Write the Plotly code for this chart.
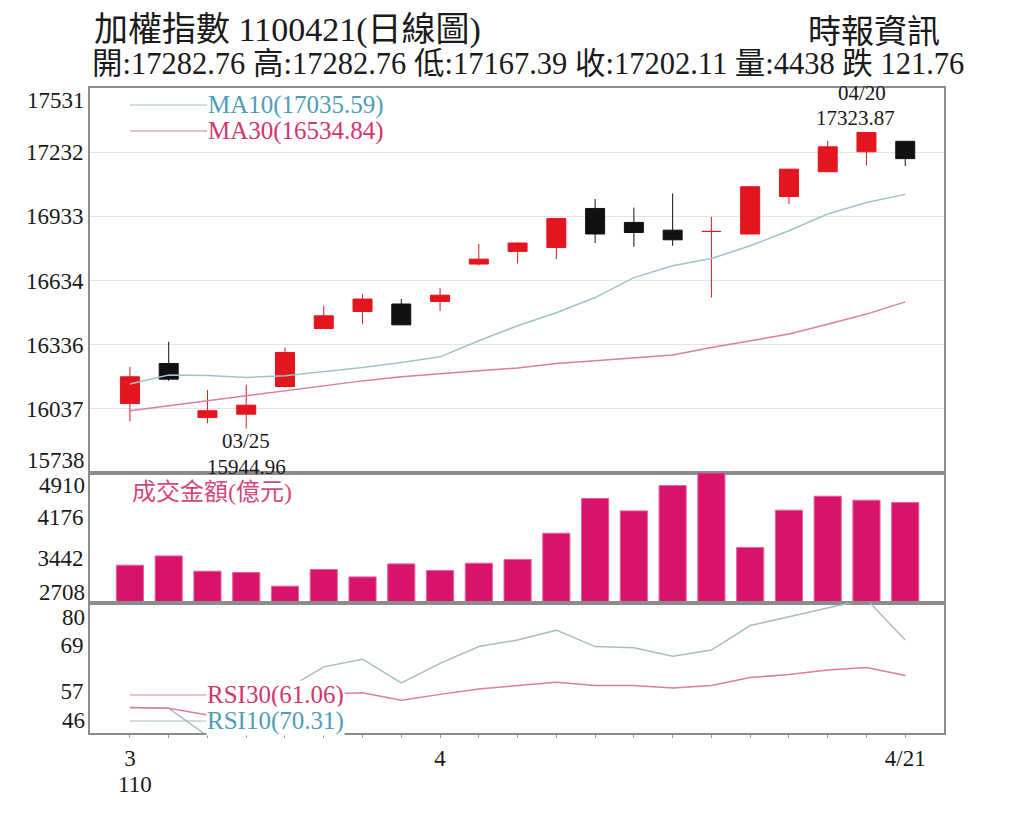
import plotly.graph_objects as go
from plotly.subplots import make_subplots

# 加權指數 daily data, 110/03/22 - 110/04/21
roc_year = 110
dates = ["03/22", "03/23", "03/24", "03/25", "03/26", "03/29", "03/30", "03/31",
         "04/01", "04/06", "04/07", "04/08", "04/09", "04/12", "04/13", "04/14",
         "04/15", "04/16", "04/19", "04/20", "04/21"]
opens = [16062, 16248, 15996, 16012, 16141, 16411, 16490, 16525, 16537, 16711, 16770,
         16788, 16970, 16905, 16869, 16863, 16851, 17026, 17141, 17234, 17282.76]
highs = [16233, 16349, 16124, 16149, 16322, 16517, 16571, 16548, 16599, 16804, 16812,
         16926, 17014, 16974, 17040, 16931, 17073, 17155, 17285, 17323.87, 17282.76]
lows = [15978, 16167, 15969, 15944.96, 16136, 16408, 16431, 16427, 16493, 16705, 16714,
        16734, 16809, 16791, 16796, 16555, 16849, 16990, 17139, 17172, 17167.39]
closes = [16186, 16175, 16028, 16054, 16299, 16470, 16548, 16428, 16566, 16734, 16809,
          16923, 16851, 16858, 16824, 16863, 17071, 17153, 17257, 17323.87, 17202.11]
ma10 = [16152, 16194, 16192, 16183, 16191, 16211, 16229, 16253, 16279, 16354, 16424,
        16484, 16555, 16648, 16703, 16737, 16796, 16866, 16944, 16998, 17035.59]
ma30 = [16028, 16051, 16074, 16098, 16121, 16144, 16167, 16186, 16201, 16214, 16227,
        16248, 16261, 16276, 16288, 16322, 16354, 16385, 16431, 16478, 16534.84]
volumes = [3317, 3483, 3209, 3186, 2941, 3240, 3107, 3340, 3222, 3352, 3419,
           3889, 4510, 4289, 4743, 4969, 3633, 4301, 4552, 4480, 4438]
rsi10 = [52.7, 52.5, 45.2, 44, 57.2, 63.3, 65.3, 59.1, 64.2, 68.6, 70.3,
         72.9, 68.6, 68.3, 66.1, 67.7, 74.1, 76.4, 78.6, 81, 70.31]
rsi30 = [52.7, 52.5, 50.7, 54.6, 55.4, 56.2, 56.5, 54.6, 56.1, 57.5, 58.4,
         59.3, 58.4, 58.4, 57.8, 58.4, 60.5, 61.3, 62.5, 63.1, 61.06]

price_ticks = [17531, 17232, 16933, 16634, 16336, 16037, 15738]
vol_ticks = [4910, 4176, 3442, 2708]
rsi_ticks = [80, 69, 57, 46]

RED = '#e3151f'
BLACK = '#111111'
MAG = '#d9136c'
MA10_C = '#9cc3cc'
MA30_C = '#de7d9d'
BLUE_T = '#4f9cba'
PINK_T = '#d2366c'
AXC = '#8c8c8c'
SERIF = 'Liberation Serif, Noto Sans CJK TC'

# plot box in picture pixels; the page adds an 8px body margin
OFF = 8
L, R, T, B = 90, 944, 88, 733
W, H = R - L, B - T
FW, FH = 1024 - OFF, 819 - OFF
def px(x):
    return (x - L) / W
def py(y):
    return (B - y) / H

xs = list(range(len(dates)))

# x tick text: month at first day of month, m/d on last day
ticktext = []
for i, d in enumerate(dates):
    m = int(d[:2])
    if i == len(dates) - 1:
        ticktext.append('%d/%s' % (m, d[3:]))
    elif i == 0 or d[:2] != dates[i - 1][:2]:
        ticktext.append(str(m))
    else:
        ticktext.append('')

fig = make_subplots(rows=3, cols=1, shared_xaxes=True, vertical_spacing=0,
                    row_heights=[385, 130, 130])

fig.add_trace(go.Candlestick(x=xs, open=opens, high=highs, low=lows, close=closes,
                             increasing=dict(line=dict(color=RED, width=1), fillcolor=RED),
                             decreasing=dict(line=dict(color=BLACK, width=1), fillcolor=BLACK),
                             whiskerwidth=0, showlegend=False, hoverinfo='skip'),
              row=1, col=1)
fig.add_trace(go.Scatter(x=xs, y=ma10, mode='lines', line=dict(color=MA10_C, width=1.5),
                         showlegend=False), row=1, col=1)
fig.add_trace(go.Scatter(x=xs, y=ma30, mode='lines', line=dict(color=MA30_C, width=1.5),
                         showlegend=False), row=1, col=1)

fig.add_trace(go.Bar(x=xs, y=volumes, marker=dict(color=MAG, line=dict(color='#e4639a', width=1)),
                     showlegend=False), row=2, col=1)

fig.add_trace(go.Scatter(x=xs, y=rsi10, mode='lines', line=dict(color='#a7bcc3', width=1.5),
                         showlegend=False), row=3, col=1)
fig.add_trace(go.Scatter(x=xs, y=rsi30, mode='lines', line=dict(color=MA30_C, width=1.5),
                         showlegend=False), row=3, col=1)

tickfont = dict(family=SERIF, size=23, color='#1a1a1a')

fig.update_xaxes(range=[-1.03, 21.0], showline=True, linecolor=AXC, linewidth=2, mirror=True,
                 showgrid=False, zeroline=False, rangeslider_visible=False, automargin=False)
fig.update_xaxes(tickmode='array', tickvals=xs, ticktext=ticktext, ticks='outside', ticklen=3,
                 tickcolor='#999999', tickfont=tickfont, row=3, col=1)

fig.update_yaxes(range=[price_ticks[-1], price_ticks[0]], tickvals=price_ticks[1:-1],
                 ticktext=[str(v) for v in price_ticks[1:-1]],
                 showgrid=True, gridcolor='#e4e4e4', gridwidth=1, row=1, col=1)
fig.update_yaxes(range=[2640, 4967], tickvals=vol_ticks[1:-1],
                 ticktext=[str(v) for v in vol_ticks[1:-1]], showgrid=False, row=2, col=1)
fig.update_yaxes(range=[rsi_ticks[-1], rsi_ticks[0]], tickvals=rsi_ticks[1:-1],
                 ticktext=[str(v) for v in rsi_ticks[1:-1]], showgrid=False, row=3, col=1)
fig.update_yaxes(showline=True, linecolor=AXC, linewidth=2, mirror=True, zeroline=False,
                 ticks='', tickfont=tickfont, automargin=False)

ann = []
# edge tick labels, nudged inside the panel like the original
for val, yref, shift in [(price_ticks[0], 'y', -12), (price_ticks[-1], 'y', 13),
                         (vol_ticks[0], 'y2', -9), (vol_ticks[-1], 'y2', 7),
                         (rsi_ticks[0], 'y3', -14), (rsi_ticks[-1], 'y3', 13)]:
    ann.append(dict(x=0, xref='paper', y=val, yref=yref, text=str(val), showarrow=False,
                    xanchor='right', yanchor='middle', xshift=-3, yshift=shift, font=tickfont))

# year under the first month label
ann.append(dict(x=0, xref='x', y=py(784), yref='paper', text=str(roc_year), showarrow=False,
                xanchor='left', yanchor='middle', xshift=-14, font=tickfont))

# header
last = len(dates) - 1
header = '開:%.2f 高:%.2f 低:%.2f 收:%.2f 量:%d 跌 %.2f' % (
    opens[last], highs[last], lows[last], closes[last], volumes[last],
    closes[last - 1] - closes[last])
ann.append(dict(x=px(92), y=py(30), xref='paper', yref='paper', showarrow=False,
                xanchor='left', yanchor='middle', text='加權指數 %d%s(日線圖)' % (roc_year, dates[last].replace('/', '')),
                font=dict(family=SERIF, size=34, color='#1a1a1a')))
ann.append(dict(x=px(942), y=py(32), xref='paper', yref='paper', showarrow=False,
                xanchor='right', yanchor='middle', text='時報資訊',
                font=dict(family=SERIF, size=33, color='#1a1a1a')))
ann.append(dict(x=px(90), y=py(64), xref='paper', yref='paper', showarrow=False,
                xanchor='left', yanchor='middle', text=header,
                font=dict(family=SERIF, size=30.5, color='#1a1a1a')))

# high / low marks
lo_i = lows.index(min(lows))
hi_i = highs.index(max(highs))
markfont = dict(family=SERIF, size=21, color='#1a1a1a')
ann.append(dict(x=lo_i, y=lows[lo_i], xref='x', yref='y', showarrow=False, yanchor='top',
                yshift=1, borderpad=0, text=dates[lo_i], font=markfont))
ann.append(dict(x=lo_i, y=lows[lo_i], xref='x', yref='y', showarrow=False, yanchor='top',
                yshift=-25, borderpad=0, text='%.2f' % lows[lo_i], font=markfont))
ann.append(dict(x=hi_i, y=highs[hi_i], xref='x', yref='y', showarrow=False, yanchor='bottom',
                yshift=26, xshift=-4, borderpad=0, text=dates[hi_i], font=markfont))
ann.append(dict(x=hi_i, y=highs[hi_i], xref='x', yref='y', showarrow=False, yanchor='bottom',
                yshift=1, xshift=-11, borderpad=0, text='%.2f' % highs[hi_i], font=markfont))

# inline legends
shapes = []
legend_items = [
    ('MA10(%.2f)' % ma10[-1], MA10_C, BLUE_T, 105, None),
    ('MA30(%.2f)' % ma30[-1], MA30_C, PINK_T, 131, None),
    ('RSI30(%.2f)' % rsi30[-1], MA30_C, PINK_T, 695, 'white'),
    ('RSI10(%.2f)' % rsi10[-1], '#a7bcc3', BLUE_T, 721, 'white'),
]
for text, lc, tc, yy, bg in legend_items:
    shapes.append(dict(type='line', xref='paper', yref='paper', x0=px(130), x1=px(207),
                       y0=py(yy), y1=py(yy), line=dict(color=lc, width=1.2)))
    a = dict(x=px(206), y=py(yy), xref='paper', yref='paper', showarrow=False,
             xanchor='left', yanchor='middle', text=text,
             font=dict(family=SERIF, size=25, color=tc))
    if bg:
        a['bgcolor'] = bg
        a['borderpad'] = 0
    ann.append(a)

ann.append(dict(x=px(130), y=py(492), xref='paper', yref='paper', showarrow=False,
                xanchor='left', yanchor='middle', text='成交金額(億元)',
                font=dict(family=SERIF, size=24, color='#d4487c')))

fig.update_layout(width=FW, height=FH,
                  margin=dict(l=L - OFF, r=FW - (R - OFF), t=T - OFF, b=FH - (B - OFF)),
                  plot_bgcolor='white', paper_bgcolor='white', bargap=0.3,
                  showlegend=False, annotations=ann, shapes=shapes)

fig.write_html("out.html")
